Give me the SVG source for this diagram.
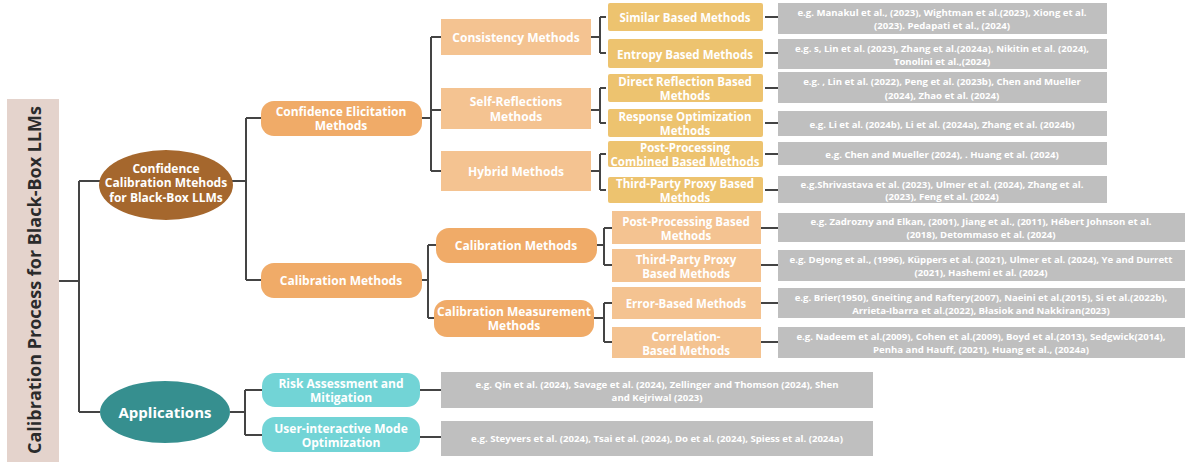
<svg xmlns="http://www.w3.org/2000/svg" width="1186" height="463" viewBox="0 0 1186 463">
<style>
.t{font-family:"Open Sans","Liberation Sans",sans-serif;font-weight:700;fill:#fff;text-anchor:middle;dominant-baseline:central}
.l2{font-size:12px}
.l3{font-size:12px}
.l4{font-size:11.5px}
.g{font-size:9.6px}
.con{fill:none;stroke:#444;stroke-width:2}
.or{fill:#f0ab68}
.lo{fill:#f4c391}
.ye{fill:#edc36f;stroke:#fff;stroke-width:2}
.gr{fill:#bfbfbf}
.tl{fill:#72d4d6}
</style>
<rect width="1186" height="463" fill="#fff"/>
<g id="connectors">
<path class="con" d="M59 281H79M79 181V412M79 181H100M79 412H100"/>
<path class="con" d="M232 181H246M246 118V280M246 118H261M246 280H261"/>
<path class="con" d="M422 118H431M431 37V171M431 37H441M431 110H441M431 171H441"/>
<path class="con" d="M591 37H600M600 17V53M600 17H607M600 53H607"/>
<path class="con" d="M591 110H600M600 88V123M600 88H607M600 123H607"/>
<path class="con" d="M591 171H600M600 154V190M600 154H607M600 190H607"/>
<path class="con" d="M764 17H778M764 53H778M764 88H778M764 123H778M764 154H778M764 190H778"/>
<path class="con" d="M422 280H428M428 245V318M428 245H436M428 318H434"/>
<path class="con" d="M597 245H604M604 228V265M604 228H612M604 265H612"/>
<path class="con" d="M594 318H604M604 303V342M604 303H612M604 342H612"/>
<path class="con" d="M761 228H778M761 265H778M761 303H778M761 342H778"/>
<path class="con" d="M230 412H245M245 390V435M245 390H262M245 435H262"/>
<path class="con" d="M420 390H441M420 437H441"/>
</g>
<g id="root">
<rect x="7" y="99" width="52" height="363" fill="#e4d3cc"/>
<text x="0" y="0" transform="translate(34 280) rotate(-90)" style="font-family:'Open Sans','Liberation Sans',sans-serif;font-weight:700;font-size:18px;fill:#2b2b2b;text-anchor:middle;dominant-baseline:central">Calibration Process for Black-Box LLMs</text>
</g>
<g id="n-confidence">
<ellipse cx="166" cy="185" rx="67" ry="35" fill="#a5672d"/>
<text class="t l2" x="166" y="168">Confidence</text>
<text class="t l2" x="166" y="182.5">Calibration Mtehods</text>
<text class="t l2" x="166" y="197">for Black-Box LLMs</text>
</g>
<g id="n-applications">
<ellipse cx="165" cy="412" rx="65" ry="31" fill="#368f8f"/>
<text class="t" x="165" y="412" style="font-size:15px">Applications</text>
</g>
<g id="n-elicitation">
<rect class="or" x="261" y="101" width="161" height="35" rx="13"/>
<text class="t l2" x="341" y="111">Confidence Elicitation</text>
<text class="t l2" x="341" y="125.5">Methods</text>
</g>
<g id="n-calibration">
<rect class="or" x="261" y="263" width="161" height="35" rx="13"/>
<text class="t l2" x="341" y="280">Calibration Methods</text>
</g>
<g id="n-consistency">
<rect class="lo" x="441" y="19" width="150" height="36"/>
<text class="t l3" x="516" y="37">Consistency Methods</text>
</g>
<g id="n-selfref">
<rect class="lo" x="441" y="88" width="150" height="41"/>
<text class="t l3" x="516" y="101.5">Self-Reflections</text>
<text class="t l3" x="516" y="116">Methods</text>
</g>
<g id="n-hybrid">
<rect class="lo" x="441" y="151" width="150" height="40"/>
<text class="t l3" x="516" y="171">Hybrid Methods</text>
</g>
<g id="n-calmethods">
<rect class="or" x="436" y="228" width="161" height="35" rx="13"/>
<text class="t l3" x="516" y="245">Calibration Methods</text>
</g>
<g id="n-calmeasure">
<rect class="or" x="434" y="300" width="160" height="37" rx="13"/>
<text class="t l3" x="514" y="311">Calibration Measurement</text>
<text class="t l3" x="514" y="325.5">Methods</text>
</g>
<g id="n-similar">
<rect class="ye" x="607" y="2" width="157" height="30" rx="3"/>
<text class="t l4" x="685" y="17">Similar Based Methods</text>
<rect class="gr" x="778" y="3" width="329" height="31"/>
<text class="t g" x="942" y="12">e.g. Manakul et al., (2023), Wightman et al.(2023), Xiong et al.</text>
<text class="t g" x="942" y="25">(2023). Pedapati et al., (2024)</text>
</g>
<g id="n-entropy">
<rect class="ye" x="607" y="38" width="157" height="31" rx="3"/>
<text class="t l4" x="685" y="54">Entropy Based Methods</text>
<rect class="gr" x="778" y="39" width="329" height="30"/>
<text class="t g" x="942" y="48">e.g. s, Lin et al. (2023), Zhang et al.(2024a), Nikitin et al. (2024),</text>
<text class="t g" x="942" y="61">Tonolini et al.,(2024)</text>
</g>
<g id="n-direct">
<rect class="ye" x="607" y="73" width="157" height="30" rx="3"/>
<text class="t l4" x="685" y="81">Direct Reflection Based</text>
<text class="t l4" x="685" y="95">Methods</text>
<rect class="gr" x="778" y="72" width="329" height="31"/>
<text class="t g" x="942" y="81">e.g. , Lin et al. (2022), Peng et al. (2023b), Chen and Mueller</text>
<text class="t g" x="942" y="95">(2024), Zhao et al. (2024)</text>
</g>
<g id="n-response">
<rect class="ye" x="607" y="108" width="157" height="30" rx="3"/>
<text class="t l4" x="685" y="116">Response Optimization</text>
<text class="t l4" x="685" y="130">Methods</text>
<rect class="gr" x="778" y="111" width="329" height="25"/>
<text class="t g" x="942" y="124">e.g. Li et al. (2024b), Li et al. (2024a), Zhang et al. (2024b)</text>
</g>
<g id="n-postcomb">
<rect class="ye" x="607" y="140" width="157" height="28" rx="3"/>
<text class="t l4" x="685" y="147">Post-Processing</text>
<text class="t l4" x="685" y="161">Combined Based Methods</text>
<rect class="gr" x="778" y="142" width="329" height="23"/>
<text class="t g" x="942" y="154">e.g. Chen and Mueller (2024), . Huang et al. (2024)</text>
</g>
<g id="n-thirdparty">
<rect class="ye" x="607" y="176" width="157" height="28" rx="3"/>
<text class="t l4" x="685" y="183">Third-Party Proxy Based</text>
<text class="t l4" x="685" y="197">Methods</text>
<rect class="gr" x="778" y="176" width="329" height="27"/>
<text class="t g" x="942" y="184">e.g.Shrivastava et al. (2023), Ulmer et al. (2024), Zhang et al.</text>
<text class="t g" x="942" y="196">(2023), Feng et al. (2024)</text>
</g>
<g id="n-postproc">
<rect class="lo" x="612" y="211" width="149" height="33"/>
<text class="t l4" x="686" y="221">Post-Processing Based</text>
<text class="t l4" x="686" y="235">Methods</text>
<rect class="gr" x="778" y="213" width="407" height="29"/>
<text class="t g" x="981" y="221">e.g. Zadrozny and Elkan, (2001), Jiang et al., (2011), Hébert Johnson et al.</text>
<text class="t g" x="981" y="234">(2018),  Detommaso et al. (2024)</text>
</g>
<g id="n-thirdproxy">
<rect class="lo" x="612" y="249" width="149" height="33"/>
<text class="t l4" x="686" y="259">Third-Party Proxy</text>
<text class="t l4" x="686" y="273">Based Methods</text>
<rect class="gr" x="778" y="250" width="407" height="31"/>
<text class="t g" x="981" y="259">e.g. DeJong et al., (1996), Küppers et al. (2021), Ulmer et al. (2024), Ye and Durrett</text>
<text class="t g" x="981" y="272">(2021), Hashemi et al. (2024)</text>
</g>
<g id="n-error">
<rect class="lo" x="612" y="287" width="149" height="32"/>
<text class="t l4" x="686" y="303">Error-Based Methods</text>
<rect class="gr" x="778" y="288" width="407" height="30"/>
<text class="t g" x="981" y="297">e.g. Brier(1950), Gneiting and Raftery(2007), Naeini et al.(2015), Si et al.(2022b),</text>
<text class="t g" x="981" y="310">Arrieta-Ibarra et al.(2022), Błasiok and Nakkiran(2023)</text>
</g>
<g id="n-correlation">
<rect class="lo" x="612" y="327" width="149" height="31"/>
<text class="t l4" x="686" y="336">Correlation-</text>
<text class="t l4" x="686" y="350">Based Methods</text>
<rect class="gr" x="778" y="327" width="407" height="31"/>
<text class="t g" x="981" y="336">e.g. Nadeem et al.(2009), Cohen et al.(2009), Boyd et al.(2013), Sedgwick(2014),</text>
<text class="t g" x="981" y="349">Penha and Hauff, (2021), Huang et al., (2024a)</text>
</g>
<g id="n-risk">
<rect class="tl" x="262" y="373" width="158" height="34" rx="13"/>
<text class="t l3" x="341" y="383">Risk Assessment and</text>
<text class="t l3" x="341" y="397.5">Mitigation</text>
<rect class="gr" x="441" y="372" width="432" height="36"/>
<text class="t g" x="657" y="384">e.g. Qin et al. (2024), Savage et al. (2024), Zellinger and Thomson (2024), Shen</text>
<text class="t g" x="657" y="397">and Kejriwal (2023)</text>
</g>
<g id="n-user">
<rect class="tl" x="262" y="417" width="158" height="35" rx="13"/>
<text class="t l3" x="341" y="428">User-interactive Mode</text>
<text class="t l3" x="341" y="442.5">Optimization</text>
<rect class="gr" x="441" y="421" width="432" height="35"/>
<text class="t g" x="657" y="438">e.g. Steyvers et al. (2024), Tsai et al. (2024), Do et al. (2024), Spiess et al. (2024a)</text>
</g>
</svg>
